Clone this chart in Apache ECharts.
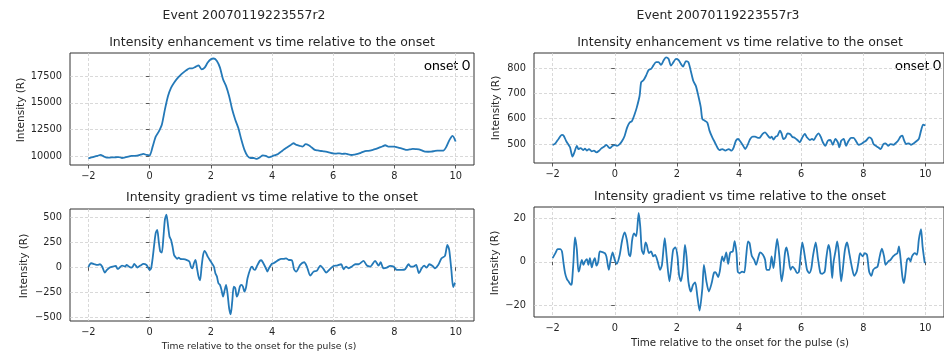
<!DOCTYPE html>
<html>
<head>
<meta charset="utf-8">
<script src="https://cdn.jsdelivr.net/npm/echarts@6/dist/echarts.min.js"></script>
<style>
  html, body { margin: 0; padding: 0; background: #ffffff; }
  #chart { width: 944px; height: 356px; }
</style>
</head>
<body>
<div id="chart"></div>
<script>
// ---- Event r2: intensity sampled every 0.1 s from -2 s ----
const r2IntensityStart = -2;
const r2IntensityStep = 0.1;
const r2Intensity = [
  9780, 9860, 9940, 10020, 10100, 9960, 9850, 9850, 9870, 9880,
  9900, 9810, 9870, 9930, 10000, 10010, 10030, 10120, 10190, 10100,
  10060, 10880, 11830, 12300, 12940, 14370, 15630, 16420, 16900, 17280,
  17600, 17850, 18070, 18260, 18260, 18390, 18540, 18160, 18320, 18800,
  19110, 19180, 18950, 18320, 17220, 16580, 15630, 14370, 13420, 12630,
  11520, 10570, 10000, 9810, 9810, 9720, 9870, 10060, 10000, 9870,
  9970, 10080, 10190, 10410, 10630, 10820, 11010, 11200, 11040, 10960,
  10890, 11110, 11010, 10790, 10570, 10520, 10470, 10430, 10380, 10310,
  10250, 10230, 10250, 10200, 10220, 10150, 10090, 10130, 10190, 10300,
  10410, 10470, 10510, 10580, 10660, 10780, 10890, 11010, 10890, 10890,
  10890, 10810, 10730, 10650, 10570, 10620, 10660, 10650, 10630, 10520,
  10410, 10400, 10410, 10460, 10510, 10500, 10510, 10890, 11520, 11900,
  11360
];

// ---- Event r2: intensity gradient ----
const r2GradTime = [
  -2.0, -1.95, -1.9, -1.8, -1.7, -1.62, -1.55, -1.46, -1.4, -1.3,
  -1.2, -1.1, -1.05, -1.0, -0.9, -0.8, -0.75, -0.7, -0.6, -0.55,
  -0.5, -0.45, -0.4, -0.3, -0.2, -0.1, -0.05, 0.0, 0.05, 0.1,
  0.15, 0.2, 0.25, 0.3, 0.35, 0.4, 0.45, 0.5, 0.55, 0.6,
  0.65, 0.7, 0.75, 0.8, 0.85, 0.9, 0.95, 1.0, 1.1, 1.2,
  1.3, 1.35, 1.4, 1.45, 1.5, 1.55, 1.6, 1.65, 1.7, 1.75,
  1.8, 1.85, 1.9, 2.0, 2.1, 2.15, 2.2, 2.25, 2.3, 2.35,
  2.4, 2.45, 2.5, 2.55, 2.6, 2.65, 2.7, 2.75, 2.8, 2.85,
  2.9, 2.95, 3.0, 3.05, 3.1, 3.15, 3.2, 3.3, 3.35, 3.4,
  3.45, 3.5, 3.6, 3.65, 3.7, 3.8, 3.85, 3.9, 4.0, 4.05,
  4.22, 4.3, 4.38, 4.46, 4.54, 4.65, 4.72, 4.79, 4.92, 5.05,
  5.14, 5.25, 5.36, 5.47, 5.58, 5.68, 5.77, 5.9, 6.01, 6.12,
  6.26, 6.34, 6.42, 6.5, 6.61, 6.72, 6.83, 6.99, 7.1, 7.21,
  7.37, 7.48, 7.55, 7.64, 7.75, 7.86, 7.97, 8.08, 8.24, 8.35,
  8.46, 8.53, 8.62, 8.71, 8.8, 8.89, 8.97, 9.05, 9.14, 9.25,
  9.32, 9.43, 9.54, 9.65, 9.73, 9.79, 9.86, 9.92, 9.98
];
const r2Grad = [
  0, 30, 40, 30, 23, 30, 7, -54, -30, -3,
  7, 13, -17, -10, 17, 7, 23, 13, -3, 7,
  33, 17, -3, 17, 33, 23, -3, -27, -10, 90,
  225, 342, 376, 258, 158, 148, 292, 476, 527, 426,
  309, 275, 208, 124, 101, 84, 97, 84, 81, 74,
  57, 7, -10, 40, 74, -10, -94, -131, 7, 124,
  164, 141, 107, 57, 7, -60, -94, -161, -178, -228,
  -295, -235, -178, -272, -413, -473, -346, -195, -211, -295,
  -262, -195, -178, -195, -245, -205, -111, -10, 7, -20,
  -27, 7, 64, 70, 50, -10, -44, -10, 37, 40,
  74, 84, 84, 90, 74, 70, -20, -44, 23, 50,
  7, -84, -44, -34, 17, -17, -54, -17, 13, 17,
  30, -20, 7, -10, 7, 30, 30, 64, 17, 7,
  64, 17, 50, -10, -3, 13, 7, -27, -27, -20,
  30, 7, 7, 23, -60, -10, 17, -3, 30, 13,
  -10, 23, 90, 113, 225, 175, -27, -200, -155
];

// ---- Event r3: intensity ----
const r3IntensityTime = [
  -2.0, -1.91, -1.81, -1.7, -1.65, -1.56, -1.49, -1.44, -1.36, -1.3,
  -1.22, -1.17, -1.1, -1.01, -0.96, -0.9, -0.83, -0.74, -0.67, -0.59,
  -0.5, -0.43, -0.35, -0.27, -0.21, -0.16, -0.07, 0.0, 0.07, 0.16,
  0.24, 0.32, 0.4, 0.48, 0.55, 0.64, 0.71, 0.8, 0.85, 0.93,
  1.01, 1.09, 1.17, 1.24, 1.33, 1.41, 1.49, 1.57, 1.65, 1.73,
  1.81, 1.89, 1.97, 2.05, 2.13, 2.2, 2.29, 2.37, 2.45, 2.53,
  2.61, 2.69, 2.77, 2.82, 2.9, 2.98, 3.05, 3.14, 3.22, 3.3,
  3.37, 3.46, 3.56, 3.67, 3.76, 3.83, 3.9, 3.97, 4.04, 4.12,
  4.2, 4.29, 4.36, 4.44, 4.52, 4.61, 4.68, 4.76, 4.84, 4.93,
  5.0, 5.05, 5.11, 5.18, 5.24, 5.32, 5.37, 5.43, 5.5, 5.56,
  5.64, 5.71, 5.8, 5.88, 5.96, 6.03, 6.12, 6.19, 6.28, 6.35,
  6.41, 6.49, 6.56, 6.63, 6.7, 6.78, 6.86, 6.94, 7.02, 7.1,
  7.18, 7.23, 7.29, 7.37, 7.45, 7.52, 7.61, 7.69, 7.77, 7.85,
  7.93, 8.01, 8.09, 8.19, 8.27, 8.33, 8.4, 8.48, 8.56, 8.65,
  8.72, 8.8, 8.88, 8.97, 9.04, 9.12, 9.2, 9.26, 9.31, 9.38,
  9.47, 9.54, 9.63, 9.71, 9.79, 9.86, 9.93, 10.0
];
const r3Intensity = [
  496, 503, 520, 536, 534, 511, 497, 487, 450, 467,
  493, 480, 484, 476, 482, 474, 480, 471, 474, 467,
  474, 483, 489, 497, 489, 484, 493, 496, 493, 500,
  513, 533, 566, 585, 590, 618, 645, 691, 744, 753,
  771, 793, 797, 810, 824, 824, 813, 830, 843, 837,
  810, 824, 837, 833, 817, 806, 828, 824, 788, 749,
  730, 691, 645, 599, 592, 585, 553, 526, 507, 487,
  476, 480, 474, 480, 474, 487, 513, 520, 511, 496,
  480, 500, 520, 529, 529, 524, 526, 540, 546, 533,
  524, 529, 518, 529, 533, 553, 542, 520, 526, 542,
  540, 529, 524, 516, 507, 524, 540, 526, 516, 520,
  516, 533, 542, 529, 507, 493, 513, 516, 497, 520,
  507, 487, 513, 520, 493, 511, 524, 524, 511, 497,
  500, 507, 513, 526, 520, 500, 493, 487, 480, 500,
  503, 493, 500, 497, 503, 513, 529, 533, 516, 500,
  503, 497, 503, 511, 520, 553, 577, 573
];

// ---- Event r3: intensity gradient ----
const r3GradTime = [
  -2.0, -1.91, -1.84, -1.76, -1.7, -1.65, -1.6, -1.54, -1.49, -1.41,
  -1.38, -1.33, -1.28, -1.22, -1.17, -1.14, -1.06, -1.01, -0.96, -0.9,
  -0.85, -0.8, -0.74, -0.69, -0.64, -0.59, -0.53, -0.48, -0.37, -0.32,
  -0.27, -0.19, -0.14, -0.07, 0.0, 0.07, 0.16, 0.24, 0.32, 0.39,
  0.46, 0.5, 0.56, 0.62, 0.69, 0.77, 0.82, 0.87, 0.93, 0.99,
  1.03, 1.1, 1.17, 1.24, 1.3, 1.38, 1.46, 1.52, 1.61, 1.67,
  1.76, 1.81, 1.88, 1.95, 2.02, 2.07, 2.13, 2.2, 2.26, 2.31,
  2.37, 2.45, 2.52, 2.59, 2.66, 2.73, 2.82, 2.87, 2.95, 3.03,
  3.12, 3.19, 3.24, 3.33, 3.38, 3.46, 3.51, 3.59, 3.65, 3.72,
  3.8, 3.86, 3.92, 3.96, 4.02, 4.1, 4.17, 4.23, 4.29, 4.34,
  4.41, 4.49, 4.55, 4.63, 4.68, 4.77, 4.84, 4.89, 4.98, 5.05,
  5.11, 5.18, 5.23, 5.3, 5.37, 5.43, 5.48, 5.53, 5.59, 5.66,
  5.72, 5.8, 5.87, 5.93, 5.98, 6.04, 6.12, 6.19, 6.26, 6.33,
  6.38, 6.47, 6.54, 6.62, 6.68, 6.76, 6.81, 6.88, 6.94, 7.0,
  7.04, 7.11, 7.16, 7.21, 7.29, 7.34, 7.41, 7.48, 7.55, 7.64,
  7.71, 7.79, 7.85, 7.9, 7.98, 8.05, 8.12, 8.19, 8.26, 8.32,
  8.38, 8.46, 8.53, 8.6, 8.67, 8.72, 8.81, 8.88, 8.96, 9.02,
  9.1, 9.15, 9.2, 9.26, 9.31, 9.36, 9.41, 9.47, 9.52, 9.57,
  9.66, 9.73, 9.79, 9.86, 9.91, 9.98
];
const r3Grad = [
  1.7, 4, 5.8, 5.8, 4.8, -0.6, -5.2, -8, -9, -10.6,
  -9.8, 0, 11.2, 5.5, -4.5, -3.8, 0.9, -1.4, 0.2, 1.2,
  -1.4, 1.7, -2.6, 0.2, 1.7, -1.8, 0.2, 4.8, 4.3, 4,
  2.5, -3.7, 0.2, 4.3, 0.9, -0.9, 3.2, 10, 13.5, 10,
  3.2, 2.5, 10, 13, 11.7, 22.5, 16.3, 5.5, 3.5, 8.9,
  7.8, 4, 4.8, 2.5, 3.2, 0.2, -3.7, -1.4, 10.9, 2.5,
  -9, -3.7, 5.5, 6.6, 2.5, -6, -9, -2.9, 7.8, 2.5,
  -9, -13.7, -10.6, -9.5, -16, -22.5, -12.2, -1.4, -9, -13.7,
  -9.8, -5.2, -4.8, -7, -4.5, 2.5, 0.2, 4.3, -1, 4.3,
  4.8, 9.5, 4, -4.5, -5.2, -4.5, -4.9, 2.5, 9.4, 8.6,
  2.8, 0.9, -1.4, 2.5, 4.3, 3.2, 0.9, -3.7, -3.7, 2.5,
  -2.9, 5.5, 10.5, 2.5, -9, -3.7, 4, 6.6, 2.5, -3.7,
  -2.2, -3.4, -5.2, -4.5, 2.5, 8.9, 2.5, -3.7, -5.2, -2.9,
  2.5, 8.9, 1.7, -5.2, -5.5, -4.5, 1.7, 7.8, 4, -7.5,
  -0.6, 5.2, 9.4, 4.8, -9, -3.7, 5.5, 8.9, 4, -2.9,
  -6.5, -4.5, 0.2, 4, 2.5, 4, 3.2, -4.5, -6.5, -3.7,
  -2.9, -2.2, 2.5, 6, 2.5, -1.4, 0.2, 0.9, 2.5, 3.2,
  4, 7.1, 1.7, -6.8, -9.8, -5.2, 0.9, 1.7, 0.2, 2.5,
  4, 3.2, 10.2, 15, 7.1, -0.6
];

// ---- Tick values ----
const timeTicks = [-2, 0, 2, 4, 6, 8, 10];
const r2IntensityTicks = [10000, 12500, 15000, 17500];
const r2GradTicks = [-500, -250, 0, 250, 500];
const r3IntensityTicks = [500, 600, 700, 800];
const r3GradTicks = [-20, 0, 20];

// ---- Text ----
const eventTitles = ['Event 20070119223557r2', 'Event 20070119223557r3'];
const topTitle = 'Intensity enhancement vs time relative to the onset';
const bottomTitle = 'Intensity gradient vs time relative to the onset';
const yName = 'Intensity (R)';
const xName = 'Time relative to the onset for the pulse (s)';
const onsetNote = 'onset 0';

// ---- Build series data ----
const r2IntensityData = r2Intensity.map((v, i) => [+(r2IntensityStart + i * r2IntensityStep).toFixed(2), v]);
const zip = (ts, vs) => ts.map((t, i) => [t, vs[i]]);

const FONT = 'DejaVu Sans';
const INK = '#262626';
const LINE = '#2479b8';
const minus = v => String(v).replace('-', '\u2212');

function xAxisCfg(gridIndex) {
  return {
    type: 'value', gridIndex, min: -2.6, max: 10.6,
    axisLine: { show: false },
    axisTick: { show: true, length: 3.5, customValues: timeTicks, lineStyle: { color: '#333', width: 0.8 } },
    axisLabel: { margin: 6, color: INK, fontFamily: FONT, fontSize: 9.8, customValues: timeTicks, formatter: minus },
    splitLine: { show: true, lineStyle: { color: '#cfcfcf', width: 0.8, type: [3, 2] } }
  };
}
function yAxisCfg(gridIndex, min, max, ticks) {
  return {
    type: 'value', gridIndex, min, max,
    axisLine: { show: false },
    axisTick: { show: true, length: 3.5, customValues: ticks, lineStyle: { color: '#333', width: 0.8 } },
    axisLabel: { margin: 8, color: INK, fontFamily: FONT, fontSize: 9.8, customValues: ticks, formatter: minus },
    splitLine: { show: true, lineStyle: { color: '#cfcfcf', width: 0.8, type: [3, 2] } }
  };
}
function lineSeries(idx, data) {
  return {
    type: 'line', xAxisIndex: idx, yAxisIndex: idx, data,
    showSymbol: false, symbol: 'none', smooth: 0.25,
    lineStyle: { color: LINE, width: 1.8 }, animation: false
  };
}
function label(x, y, text, size, opts) {
  return Object.assign({
    type: 'text', x, y, silent: true,
    style: { text, fill: INK, font: size + 'px "' + FONT + '"', textAlign: 'center', textVerticalAlign: 'middle', align: 'center', verticalAlign: 'middle' }
  }, opts || {});
}
function note(x, y, text) {
  return {
    type: 'text', x, y, silent: true,
    style: { text, fill: '#000', font: '14px Lato', textAlign: 'right', textVerticalAlign: 'middle', align: 'right', verticalAlign: 'middle' }
  };
}

const gridStyle = { show: true, borderColor: '#333', borderWidth: 1, backgroundColor: 'transparent' };

const option = {
  backgroundColor: '#ffffff',
  animation: false,
  grid: [
    Object.assign({ left: 70, top: 53, width: 404, height: 112 }, gridStyle),
    Object.assign({ left: 70, top: 209, width: 404, height: 112 }, gridStyle),
    Object.assign({ left: 534, top: 53, width: 414, height: 110 }, gridStyle),
    Object.assign({ left: 534, top: 207, width: 414, height: 110 }, gridStyle)
  ],
  xAxis: [xAxisCfg(0), xAxisCfg(1), xAxisCfg(2), xAxisCfg(3)],
  yAxis: [
    yAxisCfg(0, 9150, 19700, r2IntensityTicks),
    yAxisCfg(1, -540, 585, r2GradTicks),
    yAxisCfg(2, 425, 860, r3IntensityTicks),
    yAxisCfg(3, -25.4, 25.2, r3GradTicks)
  ],
  series: [
    lineSeries(0, r2IntensityData),
    lineSeries(1, zip(r2GradTime, r2Grad)),
    lineSeries(2, zip(r3IntensityTime, r3Intensity)),
    lineSeries(3, zip(r3GradTime, r3Grad))
  ],
  graphic: [
    label(244, 16, eventTitles[0], 12.4),
    label(718, 16, eventTitles[1], 12.4),
    label(272, 43, topTitle, 12.5),
    label(740, 43, topTitle, 12.5),
    label(272, 198, bottomTitle, 12.5),
    label(740, 197, bottomTitle, 12.5),
    label(259, 347, xName, 9.2),
    label(740, 343, xName, 10.3),
    label(21, 110, yName, 10.5, { rotation: Math.PI / 2 }),
    label(24, 266, yName, 10.5, { rotation: Math.PI / 2 }),
    label(496, 108, yName, 10.5, { rotation: Math.PI / 2 }),
    label(495, 263, yName, 10.5, { rotation: Math.PI / 2 }),
    note(470, 65, onsetNote),
    note(941, 65, onsetNote)
  ]
};

const chart = echarts.init(document.getElementById('chart'), null, { renderer: 'canvas' });
chart.setOption(option);
</script>
</body>
</html>
